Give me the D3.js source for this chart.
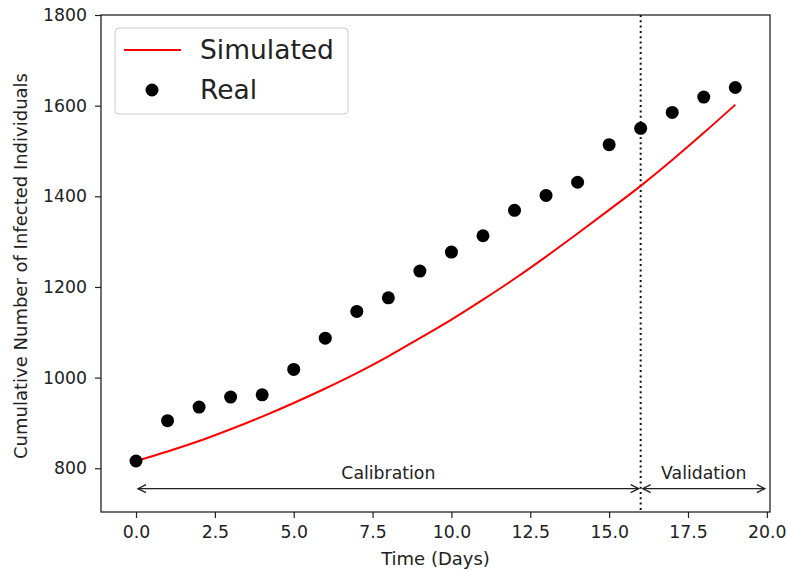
<!DOCTYPE html>
<html>
<head>
<meta charset="utf-8">
<script src="https://cdn.jsdelivr.net/npm/d3@7"></script>
<style>
  body { margin: 0; background: #fff; }
  text { font-family: "DejaVu Sans", sans-serif; fill: #222; }
</style>
</head>
<body>
<svg id="chart" width="788" height="571"></svg>
<script>
// data {{{ //
const days = [0, 1, 2, 3, 4, 5, 6, 7, 8, 9, 10, 11, 12, 13, 14, 15, 16, 17, 18, 19];
const realCases = [816, 905, 935, 957, 962, 1018, 1087, 1146, 1176, 1235, 1277, 1313, 1369, 1402, 1431, 1514, 1550, 1585, 1619, 1640];
const simulated = [816, 837, 860, 886, 914, 944, 976, 1010, 1047, 1087, 1128, 1172, 1218, 1267, 1318, 1370, 1423, 1480, 1540, 1602];
const xTicks = [0, 2.5, 5, 7.5, 10, 12.5, 15, 17.5, 20];
const yTicks = [800, 1000, 1200, 1400, 1600, 1800];
const splitDay = 16;
const endDay = 20;
const arrowLevel = 755;
const phases = [
  { label: "Calibration", from: 0, to: splitDay },
  { label: "Validation", from: splitDay, to: endDay }
];
// }}} data //

const svg = d3.select("#chart");
const margin = { left: 101, right: 18, top: 15, bottom: 59 };
const width = 788 - margin.left - margin.right;
const height = 571 - margin.top - margin.bottom;
const g = svg.append("g").attr("transform", `translate(${margin.left},${margin.top})`);

const x = d3.scaleLinear().domain([-1.11, 20.1]).range([0, width]);
const y = d3.scaleLinear().domain([703.5, 1800]).range([height, 0]);

// arrowhead marker (open chevron)
const defs = svg.append("defs");
defs.append("marker")
  .attr("id", "head")
  .attr("viewBox", "0 0 10 10")
  .attr("refX", 9).attr("refY", 5)
  .attr("markerWidth", 10).attr("markerHeight", 10)
  .attr("markerUnits", "userSpaceOnUse")
  .attr("orient", "auto-start-reverse")
  .append("path")
  .attr("d", "M1,1 L9,5 L1,9")
  .attr("fill", "none")
  .attr("stroke", "#222")
  .attr("stroke-width", 1.3);

// axes {{{ //
const xAxis = g.append("g")
  .attr("transform", `translate(0,${height})`)
  .call(d3.axisBottom(x).tickValues(xTicks).tickFormat(d3.format(".1f")).tickSizeOuter(0).tickSize(6).tickPadding(8));
const yAxis = g.append("g")
  .call(d3.axisLeft(y).tickValues(yTicks).tickSizeOuter(0).tickSize(6).tickPadding(8).tickFormat(d3.format("d")));
[xAxis, yAxis].forEach(a => {
  a.select(".domain").remove();
  a.selectAll(".tick line").attr("stroke", "#222").attr("stroke-width", 1.2);
  a.selectAll(".tick text").style("font-size", "17.3px").attr("fill", "#222");
});

// frame
g.append("rect")
  .attr("width", width).attr("height", height)
  .attr("fill", "none").attr("stroke", "#111").attr("stroke-width", 1.2);
// }}} axes //

// split line
g.append("line")
  .attr("x1", x(splitDay)).attr("x2", x(splitDay))
  .attr("y1", 0).attr("y2", height)
  .attr("stroke", "#111").attr("stroke-width", 2)
  .attr("stroke-dasharray", "2,3.3");

// simulated line
const line = d3.line()
  .x((d, i) => x(days[i]))
  .y(d => y(d))
  .curve(d3.curveMonotoneX);
g.append("path")
  .datum(simulated)
  .attr("d", line)
  .attr("fill", "none")
  .attr("stroke", "red")
  .attr("stroke-width", 2);

// real points
g.append("g").selectAll("circle")
  .data(realCases)
  .enter().append("circle")
  .attr("cx", (d, i) => x(days[i]))
  .attr("cy", d => y(d))
  .attr("r", 6.5)
  .attr("fill", "#000");

// phase arrows
phases.forEach(p => {
  g.append("line")
    .attr("x1", x(p.from) + 2).attr("x2", x(p.to) - 2)
    .attr("y1", y(arrowLevel)).attr("y2", y(arrowLevel))
    .attr("stroke", "#222").attr("stroke-width", 1.3)
    .attr("marker-start", "url(#head)")
    .attr("marker-end", "url(#head)");
  g.append("text")
    .attr("x", x((p.from + p.to) / 2))
    .attr("y", y(arrowLevel) - 10)
    .attr("text-anchor", "middle")
    .style("font-size", "17.3px")
    .text(p.label);
});

// axis labels
svg.append("text")
  .attr("x", margin.left + width / 2)
  .attr("y", 565)
  .attr("text-anchor", "middle")
  .style("font-size", "18px")
  .text("Time (Days)");
svg.append("text")
  .attr("transform", `translate(27,266) rotate(-90)`)
  .attr("text-anchor", "middle")
  .style("font-size", "18px")
  .text("Cumulative Number of Infected Individuals");

// legend {{{ //
const lg = g.append("g").attr("transform", "translate(14,13)");
lg.append("rect")
  .attr("width", 233).attr("height", 86).attr("rx", 4)
  .attr("fill", "#fff").attr("fill-opacity", 0.8)
  .attr("stroke", "#ccc").attr("stroke-width", 1);
lg.append("line")
  .attr("x1", 9).attr("x2", 66).attr("y1", 22).attr("y2", 22)
  .attr("stroke", "red").attr("stroke-width", 2);
lg.append("circle")
  .attr("cx", 37).attr("cy", 62).attr("r", 6.5).attr("fill", "#000");
lg.append("text").attr("x", 85).attr("y", 22).attr("dy", "0.35em")
  .style("font-size", "26.5px").text("Simulated");
lg.append("text").attr("x", 85).attr("y", 62).attr("dy", "0.35em")
  .style("font-size", "26.5px").text("Real");
// }}} legend //
</script>
</body>
</html>
